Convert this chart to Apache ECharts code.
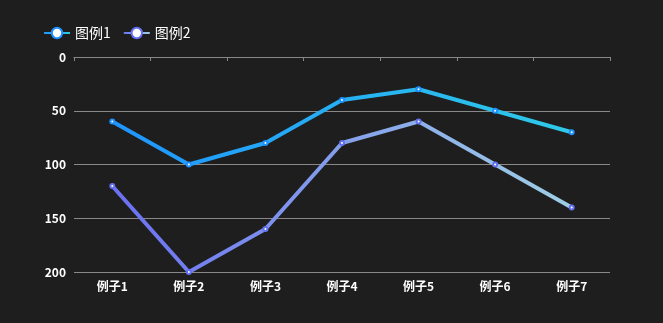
<!DOCTYPE html>
<html>
<head>
<meta charset="utf-8">
<script src="https://cdn.jsdelivr.net/npm/echarts@6/dist/echarts.min.js"></script>
<style>
  html, body { margin: 0; padding: 0; background: #1e1e1e; }
  #chart { width: 663px; height: 323px; }
</style>
</head>
<body>
<div id="chart"></div>
<script>
const categories = ['例子1', '例子2', '例子3', '例子4', '例子5', '例子6', '例子7'];
const seriesNames = ['图例1', '图例2'];
const values1 = [60, 100, 80, 40, 30, 50, 70];
const values2 = [120, 200, 160, 80, 60, 100, 140];
const yTicks = { min: 0, max: 200, interval: 50 };

const fontFamily = '"Noto Sans CJK SC", "Noto Sans", sans-serif';

function grad(a, b) {
  return new echarts.graphic.LinearGradient(0, 0, 1, 0, [
    { offset: 0, color: a },
    { offset: 1, color: b }
  ]);
}

const chart = echarts.init(document.getElementById('chart'), null, { renderer: 'canvas' });
chart.setOption({
  backgroundColor: '#1e1e1e',
  animation: false,
  legend: {
    left: 38,
    top: 21,
    itemWidth: 26,
    itemHeight: 13,
    itemGap: 12,
    textStyle: { color: '#ffffff', fontSize: 14, fontWeight: 'normal', fontFamily: fontFamily },
    data: seriesNames
  },
  grid: { left: 74, right: 53, top: 57, bottom: 51 },
  xAxis: [
    {
      type: 'category',
      data: categories,
      position: 'bottom',
      axisLine: { show: false },
      axisTick: { show: false },
      axisLabel: { color: '#ffffff', fontSize: 12, fontWeight: 'bold', fontFamily: fontFamily, margin: 8 }
    },
    {
      type: 'category',
      data: categories,
      position: 'top',
      axisLine: { show: true, lineStyle: { color: '#888888', width: 1 } },
      axisTick: { show: true, inside: true, length: 4, lineStyle: { color: '#888888' } },
      axisLabel: { show: false }
    }
  ],
  yAxis: {
    type: 'value',
    inverse: true,
    min: yTicks.min,
    max: yTicks.max,
    interval: yTicks.interval,
    axisLine: { show: false },
    axisTick: { show: false },
    axisLabel: { color: '#ffffff', fontSize: 12, fontWeight: 'bold', fontFamily: fontFamily, margin: 8 },
    splitLine: { show: true, lineStyle: { color: '#888888', width: 1 } }
  },
  series: [
    {
      name: seriesNames[0],
      type: 'line',
      data: values1,
      symbol: 'circle',
      symbolSize: 4,
      itemStyle: { color: '#ffffff', borderColor: '#1e90ff', borderWidth: 2 },
      lineStyle: { width: 4, color: grad('#1e95ff', '#2fcae8') }
    },
    {
      name: seriesNames[1],
      type: 'line',
      data: values2,
      symbol: 'circle',
      symbolSize: 4,
      itemStyle: { color: '#ffffff', borderColor: '#6470f2', borderWidth: 2 },
      lineStyle: { width: 4, color: grad('#6a6ff2', '#9fd0e6') }
    }
  ]
});
</script>
</body>
</html>
